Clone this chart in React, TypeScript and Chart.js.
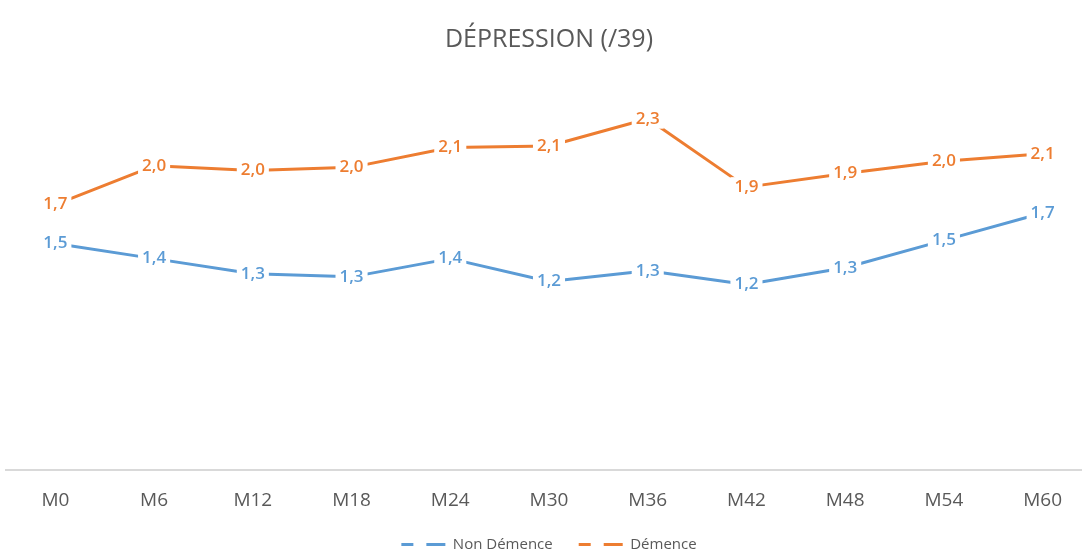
import React, { useEffect, useRef } from "react";
import { Chart, registerables } from "chart.js";

Chart.register(...registerables);

const categories = ["M0", "M6", "M12", "M18", "M24", "M30", "M36", "M42", "M48", "M54", "M60"];
const nonDemence = [1.49, 1.39, 1.29, 1.27, 1.39, 1.24, 1.31, 1.22, 1.33, 1.51, 1.69];
const demence = [1.745, 2.0, 1.97, 1.99, 2.12, 2.13, 2.31, 1.86, 1.95, 2.03, 2.08];
const seriesNames = ["Non Démence", "Démence"];
const titleText = "DÉPRESSION (/39)";

const BLUE = "#5B9BD5";
const ORANGE = "#ED7D31";
const GREY = "#595959";
const FONT = "'Open Sans', sans-serif";

const dataLabelPlugin = {
  id: "dataLabelsCustom",
  afterDatasetsDraw(chart: any) {
    const ctx = chart.ctx;
    chart.data.datasets.forEach((ds: any, di: number) => {
      const meta = chart.getDatasetMeta(di);
      meta.data.forEach((pt: any, i: number) => {
        const v = ds.data[i] as number;
        const text = (Math.round(v * 10 - 1e-6) / 10).toFixed(1).replace(".", ",");
        ctx.save();
        ctx.font = `600 17px ${FONT}`;
        const w = ctx.measureText(text).width;
        ctx.fillStyle = "#ffffff";
        ctx.fillRect(pt.x - w / 2 - 4, pt.y - 10, w + 8, 20);
        ctx.fillStyle = ds.borderColor;
        ctx.textAlign = "center";
        ctx.textBaseline = "middle";
        ctx.fillText(text, pt.x, pt.y);
        ctx.restore();
      });
    });
  },
};

export default function App() {
  const canvasRef = useRef<HTMLCanvasElement | null>(null);

  useEffect(() => {
    if (!canvasRef.current) return;
    Chart.defaults.font.family = FONT;
    const chart = new Chart(canvasRef.current, {
      type: "line",
      data: {
        labels: categories,
        datasets: [
          {
            label: seriesNames[0],
            data: nonDemence,
            borderColor: BLUE,
            backgroundColor: BLUE,
            borderWidth: 3,
            pointRadius: 0,
            tension: 0,
            borderCapStyle: "round",
            borderJoinStyle: "round",
          },
          {
            label: seriesNames[1],
            data: demence,
            borderColor: ORANGE,
            backgroundColor: ORANGE,
            borderWidth: 3,
            pointRadius: 0,
            tension: 0,
            borderCapStyle: "round",
            borderJoinStyle: "round",
          },
        ],
      },
      options: {
        animation: false,
        responsive: true,
        maintainAspectRatio: false,
        layout: { padding: { left: 6, right: 6, top: 0, bottom: 0 } },
        scales: {
          x: {
            offset: true,
            grid: { display: false, drawTicks: false },
            border: { display: true, color: "#d9d9d9", width: 2 },
            ticks: { color: GREY, font: { size: 19, family: FONT }, padding: 19 },
            afterFit: (scale: any) => {
              scale.height = 41;
            },
          },
          y: {
            display: false,
            min: 0,
            max: 2.5,
          },
        },
        plugins: {
          title: {
            display: true,
            text: titleText,
            color: GREY,
            font: { size: 25, family: FONT, weight: "normal" },
            padding: { top: 25, bottom: 34.8 },
          },
          legend: {
            display: true,
            position: "bottom",
            labels: {
              usePointStyle: true,
              pointStyleWidth: 44,
              padding: 26,
              color: GREY,
              font: { size: 15, family: FONT },
              generateLabels: (c: any) =>
                c.data.datasets.map((ds: any, i: number) => ({
                  text: ds.label,
                  fillStyle: ds.borderColor,
                  strokeStyle: ds.borderColor,
                  fontColor: GREY,
                  lineWidth: 3,
                  lineDash: [12, 13, 19, 200],
                  lineCap: "butt",
                  pointStyle: "line",
                  datasetIndex: i,
                  hidden: false,
                })),
            },
          },
          tooltip: { enabled: false },
        },
      },
      plugins: [dataLabelPlugin],
    } as any);
    return () => chart.destroy();
  }, []);

  return (
    <div
      style={{
        position: "fixed",
        left: 0,
        top: 0,
        width: 1082,
        height: 559,
        overflow: "hidden",
        background: "#ffffff",
      }}
    >
      <div style={{ position: "relative", width: 1098, height: 562 }}>
        <canvas ref={canvasRef} />
      </div>
    </div>
  );
}
